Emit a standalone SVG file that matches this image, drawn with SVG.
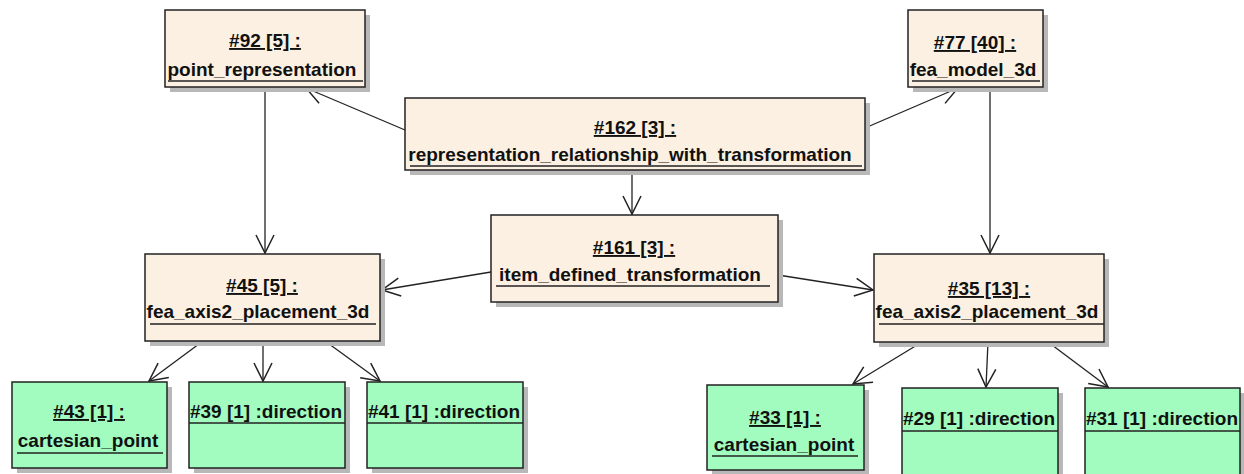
<svg xmlns="http://www.w3.org/2000/svg" width="1244" height="474" viewBox="0 0 1244 474">
<style>
.box{stroke:#222;stroke-width:1.5}
.beige{fill:#fbf0e1}
.green{fill:#a3fcbf}
.sh{fill:#b8b8b8}
text{font-family:"Liberation Sans",Arial,sans-serif;font-weight:bold;font-size:19px;fill:#111;text-anchor:middle}
.u{text-decoration:underline}
.ul{stroke:#222;stroke-width:1.5}
.conn{stroke:#222;stroke-width:1.3;fill:none}
</style>
<defs>
<marker id="arr" markerUnits="userSpaceOnUse" markerWidth="24" markerHeight="24" viewBox="-20 -12 22 24" refX="0" refY="0" orient="auto">
<path d="M-18,-9 L0,0 L-18,9" fill="none" stroke="#222" stroke-width="1.5"/>
</marker>
</defs>
<rect width="1244" height="474" fill="#fff"/>
<g id="connectors">
<line class="conn" x1="405" y1="130" x2="306" y2="88" marker-end="url(#arr)"/>
<line class="conn" x1="865" y1="128" x2="958" y2="88" marker-end="url(#arr)"/>
<line class="conn" x1="632" y1="170" x2="632" y2="214" marker-end="url(#arr)"/>
<line class="conn" x1="265" y1="87" x2="265" y2="253" marker-end="url(#arr)"/>
<line class="conn" x1="990" y1="87" x2="990" y2="253" marker-end="url(#arr)"/>
<line class="conn" x1="491" y1="272" x2="382" y2="290" marker-end="url(#arr)"/>
<line class="conn" x1="778" y1="275" x2="873" y2="290" marker-end="url(#arr)"/>
<line class="conn" x1="203" y1="341" x2="149" y2="381" marker-end="url(#arr)"/>
<line class="conn" x1="263" y1="341" x2="263" y2="381" marker-end="url(#arr)"/>
<line class="conn" x1="325" y1="341" x2="380" y2="381" marker-end="url(#arr)"/>
<line class="conn" x1="922" y1="342" x2="853" y2="384" marker-end="url(#arr)"/>
<line class="conn" x1="988" y1="342" x2="986" y2="387" marker-end="url(#arr)"/>
<line class="conn" x1="1048" y1="342" x2="1108" y2="387" marker-end="url(#arr)"/>
</g>
<g id="n92">
<rect class="sh" x="170" y="15" width="200" height="77"/>
<rect class="box beige" x="165" y="10" width="200" height="77"/>
<text class="u" x="265" y="47">#92 [5] :</text>
<text x="262" y="76">point_representation</text>
<line class="ul" x1="168" y1="81" x2="363" y2="81"/>
</g>
<g id="n77">
<rect class="sh" x="913" y="15" width="135" height="77"/>
<rect class="box beige" x="908" y="10" width="135" height="77"/>
<text class="u" x="975" y="49">#77 [40] :</text>
<text x="973" y="76">fea_model_3d</text>
<line class="ul" x1="912" y1="81" x2="1040" y2="81"/>
</g>
<g id="n162">
<rect class="sh" x="410" y="103" width="460" height="72"/>
<rect class="box beige" x="405" y="98" width="460" height="72"/>
<text class="u" x="635" y="134">#162 [3] :</text>
<text x="630" y="161">representation_relationship_with_transformation</text>
<line class="ul" x1="410" y1="166" x2="862" y2="166"/>
</g>
<g id="n161">
<rect class="sh" x="496" y="220" width="287" height="87"/>
<rect class="box beige" x="491" y="215" width="287" height="87"/>
<text class="u" x="634" y="254">#161 [3] :</text>
<text x="630" y="281">item_defined_transformation</text>
<line class="ul" x1="496" y1="286" x2="770" y2="286"/>
</g>
<g id="n45">
<rect class="sh" x="150" y="259" width="235" height="87"/>
<rect class="box beige" x="145" y="254" width="235" height="87"/>
<text class="u" x="262" y="292">#45 [5] :</text>
<text x="258" y="318">fea_axis2_placement_3d</text>
<line class="ul" x1="150" y1="324" x2="376" y2="324"/>
</g>
<g id="n35">
<rect class="sh" x="879" y="259" width="230" height="88"/>
<rect class="box beige" x="874" y="254" width="230" height="88"/>
<text class="u" x="989" y="295">#35 [13] :</text>
<text x="987" y="318">fea_axis2_placement_3d</text>
<line class="ul" x1="879" y1="324" x2="1104" y2="324"/>
</g>
<g id="n43">
<rect class="sh" x="17" y="387" width="155" height="86"/>
<rect class="box green" x="12" y="382" width="155" height="86"/>
<text class="u" x="89" y="418">#43 [1] :</text>
<text x="88" y="447">cartesian_point</text>
<line class="ul" x1="17" y1="453" x2="163" y2="453"/>
</g>
<g id="n39">
<rect class="sh" x="194" y="387" width="156" height="86"/>
<rect class="box green" x="189" y="382" width="156" height="86"/>
<text x="266" y="418">#39 [1] :direction</text>
<line class="ul" x1="189" y1="423" x2="345" y2="423"/>
</g>
<g id="n41">
<rect class="sh" x="372" y="387" width="156" height="86"/>
<rect class="box green" x="367" y="382" width="156" height="86"/>
<text x="444" y="418">#41 [1] :direction</text>
<line class="ul" x1="367" y1="423" x2="523" y2="423"/>
</g>
<g id="n33">
<rect class="sh" x="712" y="390" width="157" height="85"/>
<rect class="box green" x="707" y="385" width="157" height="85"/>
<text class="u" x="785" y="424">#33 [1] :</text>
<text x="784" y="451">cartesian_point</text>
<line class="ul" x1="712" y1="456" x2="858" y2="456"/>
</g>
<g id="n29">
<rect class="sh" x="907" y="393" width="156" height="90"/>
<rect class="box green" x="902" y="388" width="156" height="90"/>
<text x="979" y="425">#29 [1] :direction</text>
<line class="ul" x1="902" y1="431" x2="1058" y2="431"/>
</g>
<g id="n31">
<rect class="sh" x="1090" y="393" width="155" height="90"/>
<rect class="box green" x="1085" y="388" width="155" height="90"/>
<text x="1162" y="425">#31 [1] :direction</text>
<line class="ul" x1="1085" y1="431" x2="1240" y2="431"/>
</g>
</svg>
